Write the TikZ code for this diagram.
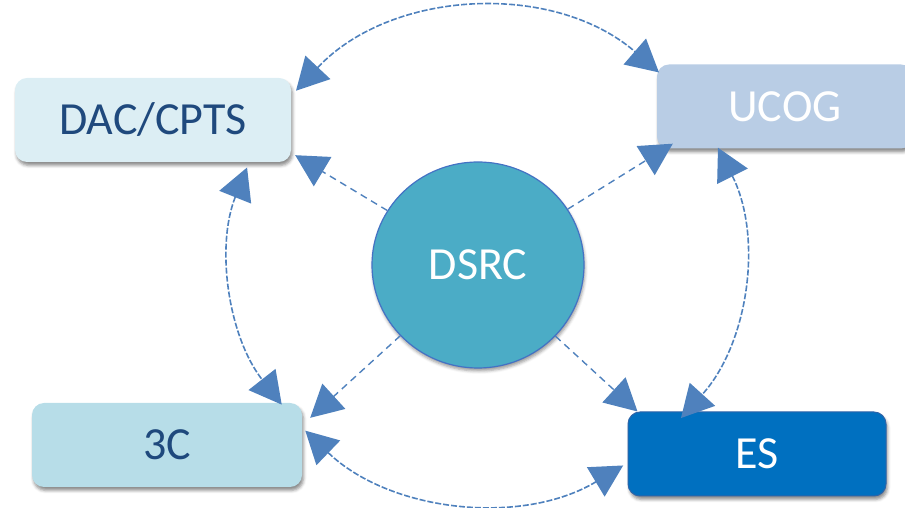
\documentclass[tikz,border=0pt]{standalone}
\usepackage{fontspec}
\setmainfont{Carlito}
\usetikzlibrary{arrows.meta,shapes.geometric,shadows.blur,calc}
\definecolor{dacfill}{HTML}{DCEEF4}
\definecolor{ucogfill}{HTML}{B9CDE5}
\definecolor{tcfill}{HTML}{B7DDE8}
\definecolor{esfill}{HTML}{0070C0}
\definecolor{esline}{HTML}{2E64A8}
\definecolor{dsrcfill}{HTML}{4BACC6}
\definecolor{dsrcline}{HTML}{4472C4}
\definecolor{darktext}{HTML}{1F497D}
\definecolor{linkcol}{HTML}{4F81BD}
\tikzset{
  boxshape/.style={rectangle, rounded corners=12pt, minimum height=84pt, inner sep=0pt,
    font=\fontsize{46}{52}\selectfont,
    blur shadow={shadow xshift=1.5pt, shadow yshift=-3.5pt, shadow blur radius=3pt, shadow opacity=45}},
  link/.style={draw=linkcol, line width=1.4pt, dash pattern=on 7pt off 5pt,
    -{Triangle[length=32pt,width=34pt]}, color=linkcol},
  ring/.style={draw=linkcol, line width=1.6pt, dash pattern=on 6pt off 2pt,
    {Triangle[length=32pt,width=34pt]}-{Triangle[length=32pt,width=34pt]}, color=linkcol}
}
\begin{document}
\begin{tikzpicture}[x=1pt,y=1pt]
\useasboundingbox (0,0) rectangle (905,508);
\coordinate (C) at (487,252);
% boxes
\node[boxshape, fill=dacfill, text=darktext, minimum width=276pt] (dac) at (153,388) {DAC/CPTS};
\node[boxshape, fill=ucogfill, text=white, minimum width=256pt] (ucog) at (785,401.5) {UCOG};
\node[boxshape, fill=tcfill, text=darktext, minimum width=270pt] (tc) at (167,63) {3C};
\node[boxshape, fill=esfill, draw=esline, line width=1pt, text=white, minimum width=258pt] (es) at (757,54) {ES};
\node[ellipse, fill=dsrcfill, draw=dsrcline, line width=1.2pt, minimum width=212pt, minimum height=206pt, inner sep=0pt,
  text=white, font=\fontsize{46}{52}\selectfont,
  blur shadow={shadow xshift=1pt, shadow yshift=-3pt, shadow blur radius=3pt, shadow opacity=40}] (D) at (478,243) {DSRC};
% ring arcs
\draw[ring] ([shift={(138:257pt and 247pt)}]C) arc[start angle=138, end angle=48, x radius=257pt, y radius=247pt];
\draw[ring] ([shift={(159:257pt and 247pt)}]C) arc[start angle=159, end angle=217, x radius=257pt, y radius=247pt];
\draw[ring] ([shift={(225:257pt and 247pt)}]C) arc[start angle=225, end angle=302, x radius=257pt, y radius=247pt];
\draw[ring] ([shift={(26:257pt and 247pt)}]C) arc[start angle=26, end angle=-41, x radius=257pt, y radius=247pt];
% links from DSRC
\coordinate (tdac) at ([xshift=4pt,yshift=7pt]dac.south east);
\coordinate (tucog) at ([xshift=16pt,yshift=5pt]ucog.south west);
\coordinate (ttc) at ([xshift=8pt,yshift=-15pt]tc.north east);
\coordinate (tes) at ([xshift=10pt]es.north west);
\draw[link] (D) -- (tdac);
\draw[link] (D) -- (tucog);
\draw[link] (D) -- (ttc);
\draw[link] (D) -- (tes);
\end{tikzpicture}
\end{document}
